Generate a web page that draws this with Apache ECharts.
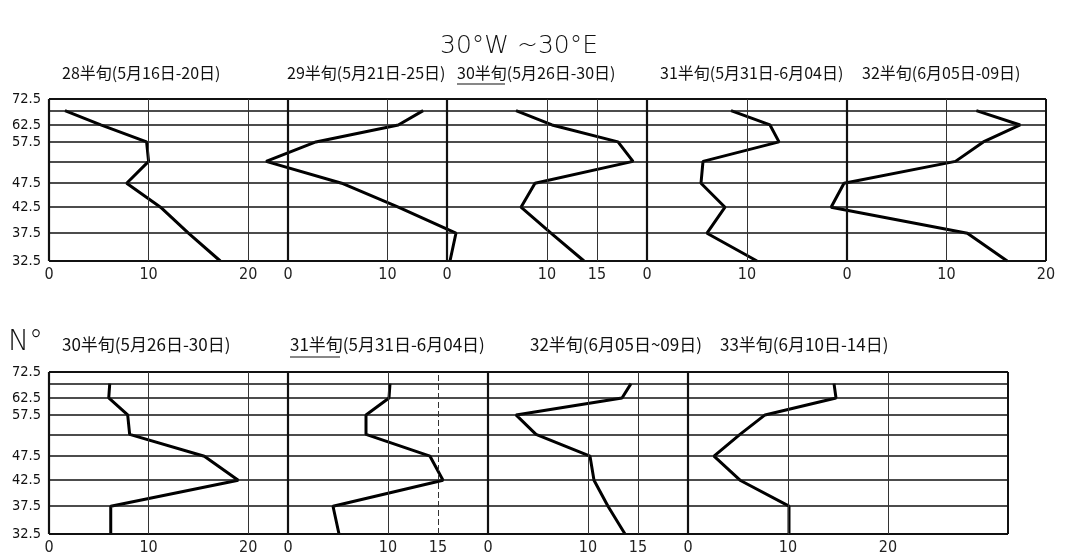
<!DOCTYPE html>
<html>

<head>
  <meta charset="utf-8">
  <title>30°W~30°E</title>
  <script src="https://cdn.jsdelivr.net/npm/echarts@6/dist/echarts.min.js"></script>
  <style>
    body { margin: 0; background: #fff; }
  </style>
</head>

<body>
  <div id="chart" style="width: 1066px;height:559px;"></div>
  <script>
    // latitudes of the points (N°), top to bottom
    const LATS = [67.5, 62.5, 57.5, 52.5, 47.5, 42.5, 37.5, 32.5];
    const GRID_LATS = [67.5, 62.5, 57.5, 52.5, 47.5, 42.5, 37.5];
    const Y_LABELS = [72.5, 62.5, 57.5, 47.5, 42.5, 37.5, 32.5];

    // upper row
    const p28 = [1.6, 5.2, 9.8, 10.0, 7.8, 11.2, 14.0, 17.2];
    const p29 = [13.6, 11.1, 2.8, -2.2, 5.4, 11.1, 16.9, 16.3];
    const p30 = [6.9, 10.5, 17.1, 18.6, 8.8, 7.4, 10.4, 13.7];
    const p31 = [8.4, 12.3, 13.2, 5.6, 5.4, 7.8, 6.0, 11.0];
    const p32 = [13.0, 17.4, 13.7, 10.9, -0.3, -1.6, 12.1, 16.1];
    // lower row
    const q30 = [6.1, 6.0, 7.9, 8.1, 15.6, 19.0, 6.2, 6.2];
    const q31 = [10.2, 10.1, 7.8, 7.8, 14.2, 15.5, 4.5, 5.1];
    const q32 = [14.3, 13.4, 2.8, 4.8, 10.2, 10.6, 12.0, 13.7];
    const q33 = [14.6, 14.8, 7.7, 5.2, 2.6, 5.2, 10.1, 10.1];

    const topTitles = ['28半旬(5月16日-20日)', '29半旬(5月21日-25日)', '30半旬(5月26日-30日)', '31半旬(5月31日-6月04日)', '32半旬(6月05日-09日)'];
    const botTitles = ['30半旬(5月26日-30日)', '31半旬(5月31日-6月04日)', '32半旬(6月05日~09日)', '33半旬(6月10日-14日)'];

    const topMax = [24, 16, 20, 20, 20];
    const botMax = [24, 20, 20, 32];
    const topXLabels = [[0, 10, 20], [0, 10], [0, 10, 15], [0, 10], [0, 10, 20]];
    const botXLabels = [[0, 10, 20], [0, 10, 15], [0, 10, 15], [0, 10, 20]];
    const topVLines = [[10, 20], [10], [10, 15], [10], [10]];
    const botVLines = [[10, 20], [10, 15], [10, 15], [10, 20]];

    // layout: x pixel of each panel's zero, panel width, and extra room for lines leaving the panel
    const topLefts = [49, 288, 447, 647, 847], topWidths = [239, 159, 200, 200, 199];
    const botLefts = [49, 288, 488, 688], botWidths = [239, 200, 200, 320];
    const topRoom = [[0, 0], [-4, 2], [0, 0], [0, 0], [-3, 0]];
    const botRoom = [[0, 0], [0, 0], [0, 0], [0, 0]];
    const topTx = [62, 287, 457, 660, 862];
    const botTx = [62, 290, 530, 720];

    const s = d => Math.sin(d * Math.PI / 180);
    const FONT = 'DejaVu Sans Condensed, DejaVu Sans, sans-serif';
    const CJK = 'Noto Sans CJK SC';

    let grid = [], xAxis = [], yAxis = [], series = [];

    function hseg(lat, max, w) {
      let a = { coord: [0, s(lat)] };
      if (w) a.lineStyle = { width: w };
      return [a, { coord: [max, s(lat)] }];
    }

    function addPanel(zeroX, width, top, max, room, xl, vl, vals, first, last, dashed) {
      let i = grid.length;
      let k = width / max;
      let lo = room[0], hi = max + room[1];
      grid.push({ left: zeroX + lo * k, top: top, width: (hi - lo) * k, height: 162 });
      xAxis.push({
        type: 'value', gridIndex: i, min: lo, max: hi,
        axisLine: { show: false }, axisTick: { show: false }, splitLine: { show: false },
        axisLabel: { customValues: xl, margin: 6, fontFamily: FONT, fontSize: 16, color: '#222' }
      });
      yAxis.push({
        type: 'value', gridIndex: i, min: s(32.5), max: s(72.5),
        axisLine: { show: false }, axisTick: { show: false }, splitLine: { show: false },
        axisLabel: {
          show: first, customValues: Y_LABELS.map(s), margin: 8 - lo * k, fontFamily: FONT, fontSize: 14.5, color: '#111',
          formatter: v => (Math.asin(v) * 180 / Math.PI).toFixed(1)
        }
      });
      let lines = GRID_LATS.map(l => hseg(l, max));
      lines.push(hseg(72.5, max, 2));
      lines.push(hseg(32.5, max, 2));
      lines.push({ xAxis: 0, lineStyle: { width: 2.2 } });
      if (last)
        lines.push({ xAxis: max, lineStyle: { width: 2 } });
      for (let v of vl)
        lines.push({ xAxis: v, lineStyle: { width: 1, color: '#333', type: (dashed && v == 15) ? [6, 3] : 'solid' } });
      series.push({
        type: 'line', xAxisIndex: i, yAxisIndex: i, showSymbol: false,
        lineStyle: { color: '#000', width: 3 },
        data: LATS.map((lat, j) => [vals[j], s(lat)]),
        markLine: {
          silent: true, symbol: 'none', label: { show: false },
          lineStyle: { color: '#111', width: 1.6, type: 'solid' },
          data: lines
        }
      });
    }

    const topData = [p28, p29, p30, p31, p32];
    for (let k = 0; k < 5; k++)
      addPanel(topLefts[k], topWidths[k], 99, topMax[k], topRoom[k], topXLabels[k], topVLines[k], topData[k], k == 0, k == 4, false);
    const botData = [q30, q31, q32, q33];
    for (let k = 0; k < 4; k++)
      addPanel(botLefts[k], botWidths[k], 372, botMax[k], botRoom[k], botXLabels[k], botVLines[k], botData[k], k == 0, k == 3, k == 1);

    let texts = [
      { type: 'text', x: 440, y: 46, style: { text: '30°W ~30°E', font: '200 25px DejaVu Sans', fill: '#111', verticalAlign: 'middle' } },
      { type: 'text', x: 8, y: 343, style: { text: 'N°', font: '200 28px DejaVu Sans', fill: '#111', verticalAlign: 'middle' } }
    ];
    topTitles.forEach((t, k) => texts.push({ type: 'text', x: topTx[k], y: 73, style: { text: t, font: '16px ' + CJK, fill: '#111', verticalAlign: 'middle' } }));
    botTitles.forEach((t, k) => texts.push({ type: 'text', x: botTx[k], y: 345, style: { text: t, font: '17px ' + CJK, fill: '#111', verticalAlign: 'middle' } }));
    // underlines
    texts.push({ type: 'line', shape: { x1: 457, y1: 84, x2: 505, y2: 84 }, style: { stroke: '#111', lineWidth: 1.2 } });
    texts.push({ type: 'line', shape: { x1: 290, y1: 357, x2: 340, y2: 357 }, style: { stroke: '#111', lineWidth: 1.2 } });

    let myChart = echarts.init(document.getElementById('chart'));
    myChart.setOption({
      animation: false,
      backgroundColor: '#fff',
      grid: grid,
      xAxis: xAxis,
      yAxis: yAxis,
      series: series,
      graphic: texts
    });
  </script>

</body>

</html>
